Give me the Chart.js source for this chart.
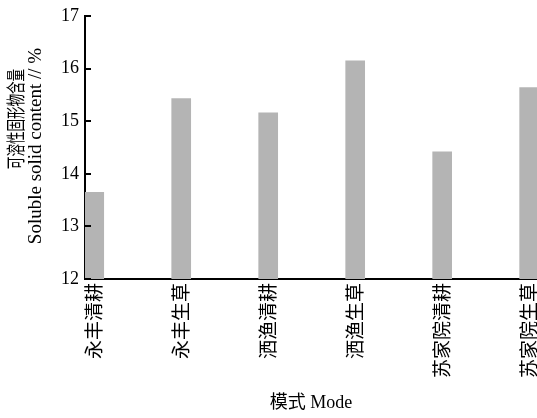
<!DOCTYPE html>
<html><head><meta charset="utf-8">
<script src="https://cdn.jsdelivr.net/npm/chart.js@4"></script>
<style>html,body{margin:0;padding:0;background:#fff;overflow:hidden}</style>
</head><body>
<canvas id="c" width="537" height="418"></canvas>
<script>
const categories = ['永丰清耕','永丰生草','洒渔清耕','洒渔生草','苏家院清耕','苏家院生草'];
const solidContent = [13.65, 15.43, 15.16, 16.15, 14.42, 15.64];
const yTicks = [12, 13, 14, 15, 16, 17];
const yTitleLines = ['可溶性固形物含量', 'Soluble solid content // %'];
const xTitle = '模式 Mode';

const SERIF = '"Liberation Serif", "Noto Sans CJK SC", serif';
const CJK = '"Noto Sans CJK SC", "Liberation Serif", sans-serif';

const innerTicks = {
  id: 'innerTicks',
  afterDraw(chart) {
    const y = chart.scales.y, ctx = chart.ctx;
    ctx.save();
    ctx.strokeStyle = '#000'; ctx.lineWidth = 2;
    y.ticks.forEach(t => {
      const py = Math.round(y.getPixelForValue(t.value));
      ctx.beginPath(); ctx.moveTo(y.right, py); ctx.lineTo(y.right + 6, py); ctx.stroke();
    });
    ctx.restore();
  }
};

const yTitlePlugin = {
  id: 'yTitle',
  afterDraw(chart) {
    const ctx = chart.ctx;
    ctx.save();
    ctx.fillStyle = '#000'; ctx.textAlign = 'center'; ctx.textBaseline = 'middle';
    ctx.translate(16, 119); ctx.rotate(-Math.PI / 2); ctx.scale(0.66, 1);
    ctx.font = '19px ' + CJK;
    ctx.fillText(yTitleLines[0], 0, 0);
    ctx.restore();
    ctx.save();
    ctx.fillStyle = '#000'; ctx.textAlign = 'center'; ctx.textBaseline = 'middle';
    ctx.translate(36, 146); ctx.rotate(-Math.PI / 2);
    ctx.font = '19px ' + SERIF;
    ctx.fillText(yTitleLines[1], 0, 0);
    ctx.restore();
  }
};

new Chart(document.getElementById('c'), {
  type: 'bar',
  data: {
    datasets: [{
      data: categories.map((c, i) => ({ x: i, y: solidContent[i] })),
      backgroundColor: '#b4b4b4',
      borderWidth: 0,
      barThickness: 19
    }]
  },
  options: {
    responsive: false,
    animation: false,
    devicePixelRatio: 1,
    layout: { padding: { top: 16, right: 0, bottom: 0, left: 0 } },
    plugins: { legend: { display: false }, tooltip: { enabled: false } },
    scales: {
      x: {
        type: 'linear',
        offset: false,
        min: -0.106,
        max: 5.09,
        afterBuildTicks: s => { s.ticks = categories.map((c, i) => ({ value: i })); },
        afterFit: s => { s.height = 139; s.paddingLeft = 0; s.paddingRight = 0; },
        ticks: {
          autoSkip: false, minRotation: 90, maxRotation: 90, padding: 4,
          color: '#000', font: { family: CJK, size: 19 },
          callback: v => categories[v]
        },
        grid: { drawOnChartArea: false, drawTicks: false, offset: false },
        border: { display: true, color: '#000', width: 2 },
        title: { display: true, text: xTitle, color: '#000', font: { family: SERIF, size: 18 }, padding: { top: 4, bottom: 4 } }
      },
      y: {
        min: 12, max: 17,
        afterBuildTicks: s => { s.ticks = yTicks.map(v => ({ value: v })); },
        afterFit: s => { s.width = 85; s.paddingTop = 0; s.paddingBottom = 0; },
        ticks: { padding: 6, color: '#000', font: { family: SERIF, size: 18 } },
        grid: { drawOnChartArea: false, drawTicks: false },
        border: { display: true, color: '#000', width: 2 }
      }
    }
  },
  plugins: [innerTicks, yTitlePlugin]
});
</script>
</body></html>
